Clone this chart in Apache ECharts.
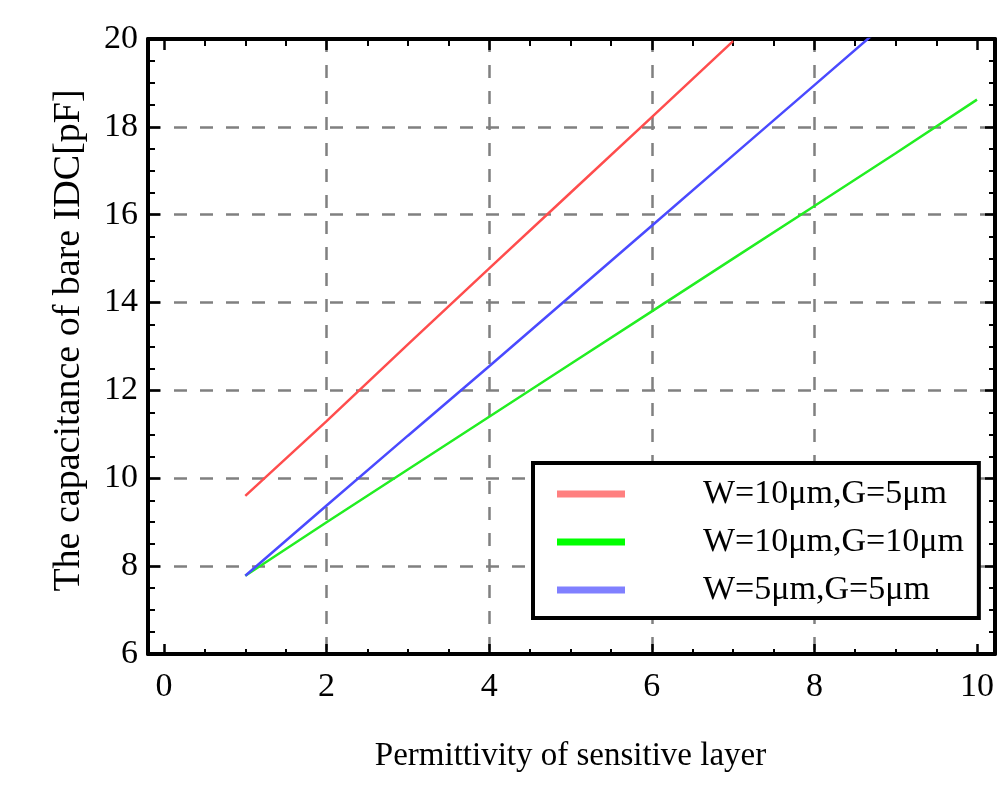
<!DOCTYPE html>
<html>
<head>
<meta charset="utf-8">
<script src="https://cdn.jsdelivr.net/npm/echarts@6/dist/echarts.min.js"></script>
<style>html,body{margin:0;padding:0;background:#fff;}#c{width:997px;height:788px;}</style>
</head>
<body>
<div id="c"></div>
<script>
// ---- data ----
const seriesNames = ['W=10μm,G=5μm', 'W=10μm,G=10μm', 'W=5μm,G=5μm'];
const redPoints = [[1, 9.6], [2, 11.3], [3, 13.05], [4, 14.78], [5, 16.5], [6, 18.22], [7, 19.95]];
const greenPoints = [[1, 7.78], [2, 9.0], [3, 10.2], [4, 11.4], [5, 12.6], [6, 13.8], [7, 15.0], [8, 16.2], [9, 17.4], [10, 18.62]];
const bluePoints = [[1, 7.78], [2, 9.38], [3, 10.97], [4, 12.55], [5, 14.15], [6, 15.75], [7, 17.35], [8, 18.95], [9, 20.55]];
const xTickValues = [0, 2, 4, 6, 8, 10];
const yTickValues = [6, 8, 10, 12, 14, 16, 18, 20];
const xName = 'Permittivity of sensitive layer';
const yName = 'The capacitance of bare IDC[pF]';

const FONT = '"Liberation Serif", "DejaVu Serif", serif';
const lineColors = ['#ff4d4d', '#22ee22', '#4a4aff'];
const legendColors = ['#ff8080', '#00ff00', '#8080ff'];

const chart = echarts.init(document.getElementById('c'));
const frameLine = { show: true, onZero: false, lineStyle: { color: '#000', width: 4 } };
const dashed = { show: true, showMinLine: false, showMaxLine: false,
  lineStyle: { color: '#808080', width: 2.5, type: [13, 13] } };

chart.setOption({
  animation: false,
  backgroundColor: '#fff',
  grid: [
    { left: 148, right: 2, top: 39, bottom: 134 },
    { left: 164, right: 13, top: 39, bottom: 134 }
  ],
  xAxis: [
    { gridIndex: 0, type: 'value', min: -0.2, max: 10.13, position: 'bottom',
      axisLine: frameLine, axisTick: { show: false }, axisLabel: { show: false }, splitLine: { show: false } },
    { gridIndex: 0, type: 'value', min: -0.2, max: 10.13, position: 'top',
      axisLine: frameLine, axisTick: { show: false }, axisLabel: { show: false }, splitLine: { show: false } },
    { gridIndex: 1, type: 'value', min: xTickValues[0], max: xTickValues[xTickValues.length - 1], interval: 2, position: 'bottom',
      axisLine: { show: false },
      axisTick: { show: true, inside: true, length: 10, lineStyle: { color: '#000', width: 2.5 } },
      minorTick: { show: true, splitNumber: 4, length: 5, lineStyle: { color: '#000', width: 2 } },
      axisLabel: { show: true, margin: 16, color: '#000', fontFamily: FONT, fontSize: 34 },
      splitLine: dashed,
      name: xName, nameLocation: 'middle', nameGap: 86,
      nameTextStyle: { color: '#000', fontFamily: FONT, fontSize: 33 } },
    { gridIndex: 1, type: 'value', min: xTickValues[0], max: xTickValues[xTickValues.length - 1], interval: 2, position: 'top',
      axisLine: { show: false },
      axisTick: { show: true, inside: true, length: 11, lineStyle: { color: '#000', width: 2.5 } },
      minorTick: { show: true, splitNumber: 4, length: 7, lineStyle: { color: '#000', width: 2 } },
      axisLabel: { show: false }, splitLine: { show: false } }
  ],
  yAxis: [
    { gridIndex: 0, type: 'value', min: yTickValues[0], max: yTickValues[yTickValues.length - 1], interval: 2, position: 'left',
      axisLine: frameLine,
      axisTick: { show: true, inside: true, length: 12, lineStyle: { color: '#000', width: 2.5 } },
      minorTick: { show: true, splitNumber: 4, length: 7, lineStyle: { color: '#000', width: 2 } },
      axisLabel: { show: true, margin: 10, color: '#000', fontFamily: FONT, fontSize: 34 },
      splitLine: dashed,
      name: yName, nameLocation: 'middle', nameGap: 60, nameRotate: 90,
      nameTextStyle: { color: '#000', fontFamily: FONT, fontSize: 38, padding: [0, 0, 0, 12] } },
    { gridIndex: 0, type: 'value', min: yTickValues[0], max: yTickValues[yTickValues.length - 1], interval: 2, position: 'right',
      axisLine: frameLine,
      axisTick: { show: true, inside: true, length: 10, lineStyle: { color: '#000', width: 2.5 } },
      minorTick: { show: true, splitNumber: 4, length: 6, lineStyle: { color: '#000', width: 2 } },
      axisLabel: { show: false }, splitLine: { show: false } },
    { gridIndex: 1, type: 'value', min: yTickValues[0], max: yTickValues[yTickValues.length - 1], interval: 2,
      show: false }
  ],
  legend: {
    orient: 'vertical',
    left: 533, top: 463,
    padding: [14, 15, 11, 24],
    itemGap: 14,
    itemWidth: 68, itemHeight: 7,
    icon: 'rect',
    borderColor: '#000', borderWidth: 4,
    backgroundColor: '#fff',
    textStyle: { color: '#000', fontFamily: FONT, fontSize: 34, padding: [0, 0, 0, 73] },
    data: seriesNames.map((n, i) => ({ name: n, itemStyle: { color: legendColors[i] } }))
  },
  series: [redPoints, greenPoints, bluePoints].map((pts, i) => ({
    name: seriesNames[i], type: 'line', xAxisIndex: 2, yAxisIndex: 2,
    data: pts, showSymbol: false, symbol: 'none', clip: true,
    lineStyle: { color: lineColors[i], width: 2.5 },
    itemStyle: { color: lineColors[i] }
  }))
});
</script>
</body>
</html>
